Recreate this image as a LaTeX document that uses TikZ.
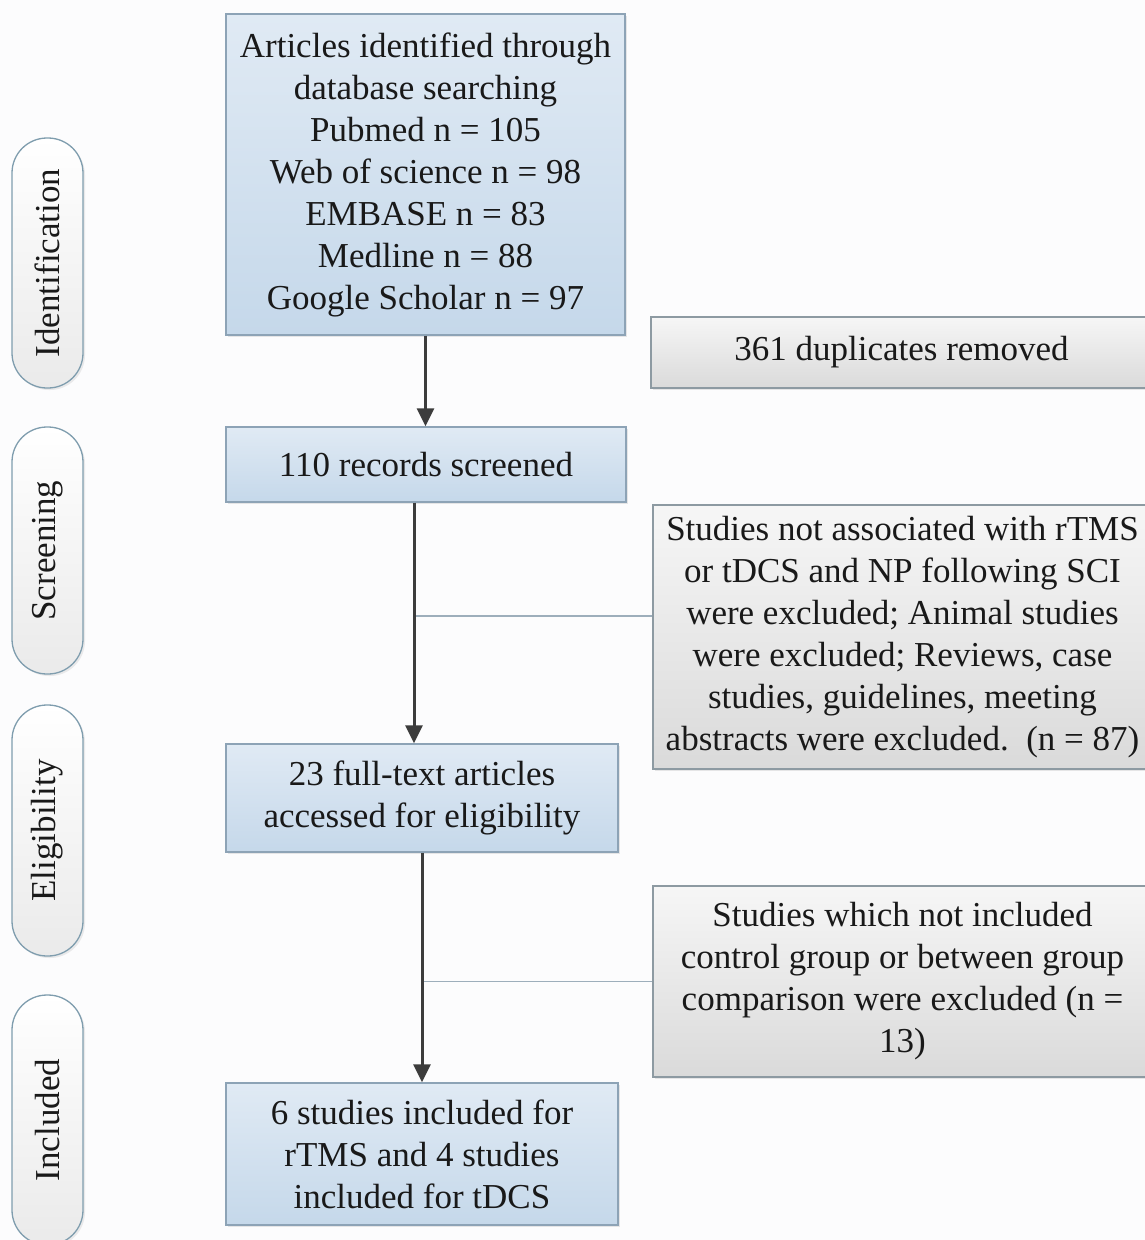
\documentclass[tikz,border=0pt]{standalone}
\usepackage{fontspec}
\setmainfont{Liberation Serif}
\usetikzlibrary{arrows.meta,shadows}
\definecolor{bluetop}{HTML}{E0EAF4}
\definecolor{bluebot}{HTML}{C5D8EA}
\definecolor{blueedge}{HTML}{8DA3B6}
\definecolor{graytop}{HTML}{F6F6F6}
\definecolor{graybot}{HTML}{DADADA}
\definecolor{grayedge}{HTML}{8D9AA2}
\definecolor{pilledge}{HTML}{7F9DAE}
\definecolor{arrowcol}{HTML}{3C3C3C}
\definecolor{branchcol}{HTML}{9DAEBB}
\definecolor{bgcol}{HTML}{FCFCFD}
\tikzset{
  txt/.style={font=\fontsize{35}{42}\selectfont, align=center, inner sep=0pt, text=black!90},
  bluebox/.style={txt, draw=blueedge, line width=1.3pt, top color=bluetop, bottom color=bluebot,
    drop shadow={opacity=0.18, shadow xshift=2pt, shadow yshift=-2pt}},
  graybox/.style={txt, draw=grayedge, line width=1.3pt, top color=graytop, bottom color=graybot,
    drop shadow={opacity=0.18, shadow xshift=2pt, shadow yshift=-2pt}},
  pill/.style={txt, draw=pilledge, line width=1.3pt, rounded corners=35pt, rotate=90,
    minimum height=71pt, top color=white, bottom color=graytop!90!gray,
    drop shadow={opacity=0.15, shadow xshift=2pt, shadow yshift=-2pt}},
  arr/.style={draw=arrowcol, line width=3pt, -{Triangle[length=18pt,width=17pt]}},
  branch/.style={draw=branchcol, line width=1.5pt},
}
\begin{document}
\begin{tikzpicture}[x=1pt,y=-1pt]
\useasboundingbox (0,0) rectangle (1145,1240);
\fill[bgcol] (0,0) rectangle (1145,1240);

% phase pills
\node[pill, minimum width=250pt] (pid) at (47.5,263) {Identification};
\node[pill, minimum width=247pt] (psc) at (47.5,550.5) {Screening};
\node[pill, minimum width=251pt] (pel) at (47.5,830.5) {Eligibility};
\node[pill, minimum width=250pt] (pin) at (47.5,1120) {Included};

% main boxes
\node[bluebox, minimum width=399pt, minimum height=321pt] (b1) at (425.5,174.5)
  {Articles identified through\\database searching\\Pubmed n = 105\\Web of science n = 98\\EMBASE n = 83\\Medline n = 88\\Google Scholar n = 97};
\node[bluebox, minimum width=400pt, minimum height=75pt] (b2) at (426,464.5)
  {110 records screened};
\node[bluebox, minimum width=392pt, minimum height=108pt] (b3) at (422,798)
  {23 full-text articles\\accessed for eligibility};
\node[bluebox, minimum width=392pt, minimum height=142pt] (b4) at (422,1154)
  {6 studies included for\\rTMS and 4 studies\\included for tDCS};

% exclusion boxes
\node[graybox, minimum width=501pt, minimum height=71pt] (g1) at (901.5,352.5)
  {361 duplicates removed};
\node[graybox, minimum width=499pt, minimum height=264pt] (g2) at (902.5,637)
  {Studies not associated with rTMS\\or tDCS and NP following SCI\\were excluded; Animal studies\\were excluded; Reviews, case\\studies, guidelines, meeting\\abstracts were excluded.\ \ (n = 87)};
\node[graybox, minimum width=499pt, minimum height=191pt] (g3) at (902.5,981.5)
  {Studies which not included\\control group or between group\\comparison were excluded (n =\\13)};

% connectors
\draw[arr] (b1.south) -- (b1.south |- b2.north);

\coordinate (s2) at ([xshift=-12pt]b2.south);
\coordinate (j2) at (414,616);
\draw[branch] (j2) -- (g2.west |- j2);
\draw[arr] (s2) -- (s2 |- b3.north);

\coordinate (j3) at (b3.south |- g3.west);
\draw[branch] (j3) -- (g3.west);
\draw[arr] (b3.south) -- (b4.north);
\end{tikzpicture}
\end{document}
